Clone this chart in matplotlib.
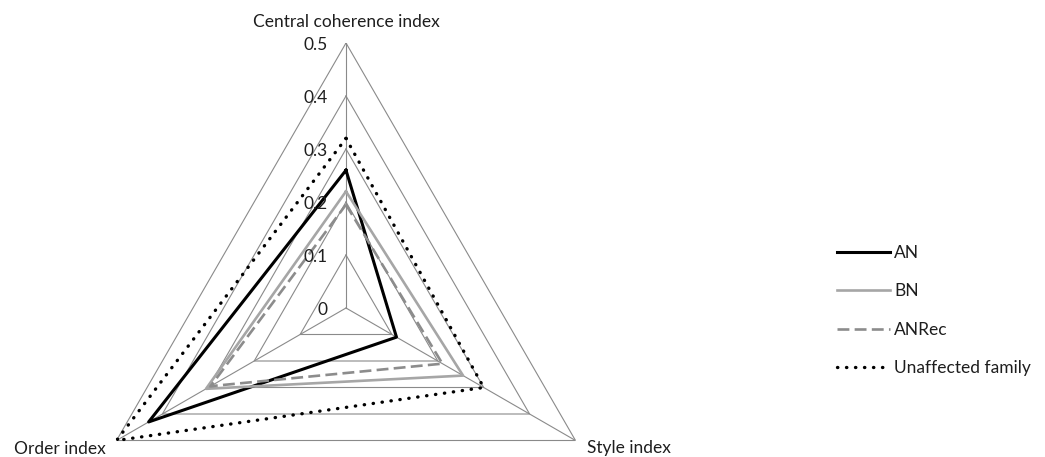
import numpy as np
import matplotlib
matplotlib.use("Agg")
import matplotlib.pyplot as plt

plt.rcParams['font.family'] = ['Lato', 'DejaVu Sans']

# data
categories = ['Central coherence index', 'Style index', 'Order index']
levels = [0, 0.1, 0.2, 0.3, 0.4, 0.5]
level_labels = ['0', '0.1', '0.2', '0.3', '0.4', '0.5']
an = [0.26, 0.11, 0.43]
bn = [0.22, 0.255, 0.305]
anrec = [0.195, 0.21, 0.295]
unaffected = [0.32, 0.30, 0.50]

W, H = 1045, 457
fig = plt.figure(figsize=(W / 100, H / 100), dpi=100)

# polar axes centred on the radar centre, radius of outer ring ~265 px
cx, cy, R = 346, 149, 265
ax = fig.add_axes([(cx - R) / W, (cy - R) / H, 2 * R / W, 2 * R / H], projection='polar')
ax.set_theta_offset(np.pi / 2)
ax.set_theta_direction(-1)
ax.patch.set_visible(False)
ax.spines['polar'].set_visible(False)
ax.grid(False)
ax.set_xticks([])
ax.set_yticks([])

angles = np.arange(len(categories)) * 2 * np.pi / len(categories)
closed = np.append(angles, angles[0])

grid_col = '#8a8a8a'
for lv in levels[1:]:
    ax.plot(closed, [lv] * len(closed), color=grid_col, lw=0.8, zorder=1)
for a in angles:
    ax.plot([a, a], [0, levels[-1]], color=grid_col, lw=0.8, zorder=1)


def close(v):
    return list(v) + [v[0]]


ax.plot(closed, close(an), color='black', lw=2.2, label='AN', zorder=3)
ax.plot(closed, close(bn), color='#a6a6a6', lw=1.9, label='BN', zorder=3)
ax.plot(closed, close(anrec), color='#8c8c8c', lw=1.9, dashes=(4.5, 2),
        label='ANRec', zorder=3)
ax.plot(closed, close(unaffected), color='black', lw=2.4, dashes=(0.1, 2.6),
        dash_capstyle='round', label='Unaffected family', zorder=4)

ax.set_ylim(0, levels[-1])

fs = 12.5
txt_col = '#1e1e1e'

# radial tick labels along the top spoke
for lv, lab in zip(levels, level_labels):
    ax.annotate(lab, xy=(0, lv), xytext=(-18, -2), textcoords='offset pixels',
                ha='right', va='center', fontsize=fs, color=txt_col)

# category labels
ax.annotate(categories[0], xy=(angles[0], 0.5), xytext=(0, 21), textcoords='offset pixels',
            ha='center', va='center', fontsize=fs, color=txt_col)
ax.annotate(categories[1], xy=(angles[1], 0.5), xytext=(12, -8), textcoords='offset pixels',
            ha='left', va='center', fontsize=fs, color=txt_col)
ax.annotate(categories[2], xy=(angles[2], 0.5), xytext=(-11, -8), textcoords='offset pixels',
            ha='right', va='center', fontsize=fs, color=txt_col)

fig.legend(loc='upper left', bbox_to_anchor=(830 / W, 1 - 238 / H), frameon=False,
           fontsize=fs, handlelength=3.05, handletextpad=0.25, labelspacing=1.29,
           borderaxespad=0, labelcolor=txt_col)

fig.savefig('out.png', dpi=100)
